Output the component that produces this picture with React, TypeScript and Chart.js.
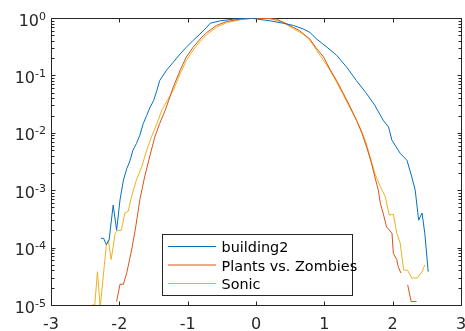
import React, { useEffect, useRef } from "react";
import { Chart, registerables } from "chart.js";

Chart.register(...registerables);

const seriesNames = ["building2", "Plants vs. Zombies", "Sonic"];
const seriesColors = ["#0072BD", "#D95319", "#EDB120"];
const xTickValues = [-3, -2, -1, 0, 1, 2, 3];
const yTickExponents = [-5, -4, -3, -2, -1, 0];

const buildingX = [-2.27, -2.23, -2.19, -2.15, -2.09, -2.04, -1.99, -1.94, -1.89, -1.85, -1.80, -1.75, -1.70, -1.65, -1.60, -1.55, -1.50, -1.45, -1.41, -1.31, -1.21, -1.11, -1.02, -0.92, -0.82, -0.72, -0.67, -0.53, -0.33, -0.09, 0.21, 0.40, 0.55, 0.69, 0.79, 0.89, 1.04, 1.18, 1.33, 1.47, 1.62, 1.74, 1.86, 1.94, 1.99, 2.11, 2.21, 2.28, 2.33, 2.38, 2.43, 2.47, 2.52];
const buildingY = [1.45e-4, 1.45e-4, 1.12e-4, 1.35e-4, 5.5e-4, 2.0e-4, 6.8e-4, 1.5e-3, 2.4e-3, 3.1e-3, 5.0e-3, 6.5e-3, 9.1e-3, 1.45e-2, 2.0e-2, 2.8e-2, 3.6e-2, 5.5e-2, 8.1e-2, 0.123, 0.17, 0.237, 0.309, 0.407, 0.525, 0.69, 0.81, 0.89, 0.955, 1.0, 0.89, 0.81, 0.74, 0.645, 0.56, 0.427, 0.309, 0.224, 0.138, 8.1e-2, 4.8e-2, 3.0e-2, 1.66e-2, 1.26e-2, 7.4e-3, 4.4e-3, 3.3e-3, 1.7e-3, 1.0e-3, 3.0e-4, 4.0e-4, 1.78e-4, 3.8e-5];

const pvzX = [-2.04, -1.99, -1.94, -1.89, -1.82, -1.76, -1.70, -1.63, -1.55, -1.48, -1.41, -1.33, -1.28, -1.21, -1.11, -1.02, -0.92, -0.82, -0.72, -0.58, -0.43, -0.23, 0.01, 0.30, 0.45, 0.64, 0.79, 0.89, 0.99, 1.08, 1.18, 1.28, 1.38, 1.47, 1.55, 1.62, 1.69, 1.74, 1.79, 1.82, 1.86, 1.91, 1.99, 2.01, 2.06, 2.08, 2.12, 2.17, 2.22, 2.27, 2.35];
const pvzY = [1.15e-5, 2.3e-5, 2.3e-5, 3.7e-5, 9.1e-5, 2.3e-4, 6.8e-4, 1.7e-3, 4.1e-3, 8.5e-3, 1.45e-2, 2.45e-2, 3.6e-2, 6.3e-2, 0.123, 0.209, 0.309, 0.427, 0.56, 0.74, 0.87, 0.955, 1.0, 0.955, 0.79, 0.60, 0.427, 0.29, 0.209, 0.129, 8.1e-2, 4.8e-2, 2.8e-2, 1.66e-2, 9.8e-3, 5.6e-3, 2.95e-3, 1.7e-3, 1.0e-3, 5.9e-4, 4.0e-4, 2.3e-4, 1.78e-4, 7.9e-5, 6.2e-5, 4.7e-5, 3.6e-5, null, 2.24e-5, 1.15e-5, 1.15e-5];

const sonicX = [-2.40, -2.36, -2.32, -2.28, -2.19, -2.16, -2.12, -2.06, -2.02, -1.97, -1.92, -1.87, -1.82, -1.75, -1.67, -1.60, -1.53, -1.45, -1.38, -1.30, -1.21, -1.11, -1.02, -0.92, -0.82, -0.72, -0.58, -0.43, -0.23, 0.00, 0.21, 0.40, 0.55, 0.69, 0.79, 0.89, 0.99, 1.08, 1.18, 1.28, 1.38, 1.47, 1.52, 1.60, 1.67, 1.74, 1.82, 1.89, 1.95, 2.01, 2.06, 2.11, 2.16, 2.22, 2.28, 2.36, 2.43, 2.47];
const sonicY = [1.0e-5, 1.0e-5, 3.8e-5, 9.0e-6, 1.12e-4, 1.35e-4, 6.2e-5, 1.78e-4, 2.0e-4, 2.0e-4, 4.0e-4, 4.3e-4, 7.8e-4, 1.5e-3, 2.6e-3, 5.0e-3, 8.5e-3, 1.45e-2, 2.45e-2, 3.6e-2, 5.5e-2, 0.107, 0.182, 0.275, 0.389, 0.513, 0.69, 0.83, 0.93, 1.0, 0.98, 0.83, 0.645, 0.525, 0.407, 0.27, 0.182, 0.123, 7.6e-2, 4.5e-2, 2.63e-2, 1.66e-2, 1.26e-2, 7.4e-3, 3.8e-3, 1.95e-3, 1.15e-3, 7.8e-4, 3.7e-4, 3.8e-4, 1.78e-4, 1.2e-4, 4.1e-5, 4.0e-5, 2.95e-5, 2.95e-5, 3.8e-5, 5.0e-5];

const seriesX = [buildingX, pvzX, sonicX];
const seriesY = [buildingY, pvzY, sonicY];

const AXIS_COLOR = "#262626";
const FONT = '"DejaVu Sans", sans-serif';

const axesPlugin = {
  id: "matlabAxes",
  beforeDatasetsDraw(chart: any) {
    const { ctx, chartArea: a, scales } = chart;
    const xs = scales.x;
    const ys = scales.y;
    const L = Math.round(a.left) + 0.5;
    const R = Math.round(a.right) + 0.5;
    const T = Math.round(a.top) + 0.5;
    const B = Math.round(a.bottom) + 0.5;
    ctx.save();
    ctx.strokeStyle = AXIS_COLOR;
    ctx.lineWidth = 1;
    ctx.beginPath();
    ctx.rect(L, T, R - L, B - T);
    ctx.stroke();
    // x ticks
    ctx.beginPath();
    xTickValues.forEach((v) => {
      const px = Math.round(xs.getPixelForValue(v)) + 0.5;
      ctx.moveTo(px, B);
      ctx.lineTo(px, B - 4);
      ctx.moveTo(px, T);
      ctx.lineTo(px, T + 4);
    });
    // y major + minor ticks
    yTickExponents.forEach((e) => {
      const py = Math.round(ys.getPixelForValue(Math.pow(10, e))) + 0.5;
      ctx.moveTo(L, py);
      ctx.lineTo(L + 4, py);
      ctx.moveTo(R, py);
      ctx.lineTo(R - 4, py);
      if (e < 0) {
        for (let m = 2; m <= 9; m++) {
          const my = Math.round(ys.getPixelForValue(m * Math.pow(10, e))) + 0.5;
          ctx.moveTo(L, my);
          ctx.lineTo(L + 3, my);
          ctx.moveTo(R, my);
          ctx.lineTo(R - 3, my);
        }
      }
    });
    ctx.stroke();
    // labels
    ctx.fillStyle = AXIS_COLOR;
    ctx.textBaseline = "alphabetic";
    ctx.font = "16px " + FONT;
    ctx.textAlign = "center";
    xTickValues.forEach((v) => {
      const px = xs.getPixelForValue(v);
      ctx.fillText(String(v), px, 328.5);
    });
    ctx.textAlign = "right";
    yTickExponents.forEach((e) => {
      const py = ys.getPixelForValue(Math.pow(10, e));
      const exp = String(e);
      ctx.font = "11px " + FONT;
      const w = ctx.measureText(exp).width;
      ctx.fillText(exp, 46, py + 1.5);
      ctx.font = "16px " + FONT;
      ctx.fillText("10", 46 - w, py + 7.5);
    });
    ctx.restore();
  },
  afterDraw(chart: any) {
    const { ctx } = chart;
    ctx.save();
    ctx.fillStyle = "#ffffff";
    ctx.fillRect(162.5, 234.5, 190, 61);
    ctx.strokeStyle = AXIS_COLOR;
    ctx.lineWidth = 1;
    ctx.strokeRect(162.5, 234.5, 190, 61);
    const rows = [246.5, 265, 283.5];
    ctx.font = "14.4px " + FONT;
    ctx.textAlign = "left";
    ctx.textBaseline = "alphabetic";
    seriesNames.forEach((name, i) => {
      ctx.strokeStyle = seriesColors[i];
      ctx.lineWidth = 1;
      ctx.beginPath();
      ctx.moveTo(168, rows[i]);
      ctx.lineTo(216, rows[i]);
      ctx.stroke();
      ctx.fillStyle = "#000000";
      ctx.fillText(name, 221.5, rows[i] + 5.5);
    });
    ctx.restore();
  },
};

export default function App() {
  const canvasRef = useRef<HTMLCanvasElement | null>(null);

  useEffect(() => {
    if (!canvasRef.current) return;
    const datasets = seriesNames.map((name, i) => ({
      label: name,
      data: seriesX[i].map((x, j) => ({ x, y: seriesY[i][j] })),
      borderColor: seriesColors[i],
      backgroundColor: seriesColors[i],
      borderWidth: 1,
      pointRadius: 0,
      pointHoverRadius: 0,
      tension: 0,
      fill: false,
      spanGaps: false,
      clip: 0,
    }));
    const chart = new Chart(canvasRef.current, {
      type: "line",
      data: { datasets },
      options: {
        responsive: false,
        animation: false,
        devicePixelRatio: 1,
        layout: { padding: { left: 51, top: 18, right: 4, bottom: 26 } },
        plugins: { legend: { display: false }, tooltip: { enabled: false } },
        scales: {
          x: { type: "linear", min: -3, max: 3, display: false },
          y: { type: "logarithmic", min: 1e-5, max: 1, display: false },
        },
        events: [],
      },
      plugins: [axesPlugin],
    } as any);
    return () => chart.destroy();
  }, []);

  return (
    <div style={{ position: "fixed", left: 0, top: 0, width: 465, height: 331, background: "#fff" }}>
      <canvas ref={canvasRef} width={465} height={331} style={{ display: "block" }} />
    </div>
  );
}
